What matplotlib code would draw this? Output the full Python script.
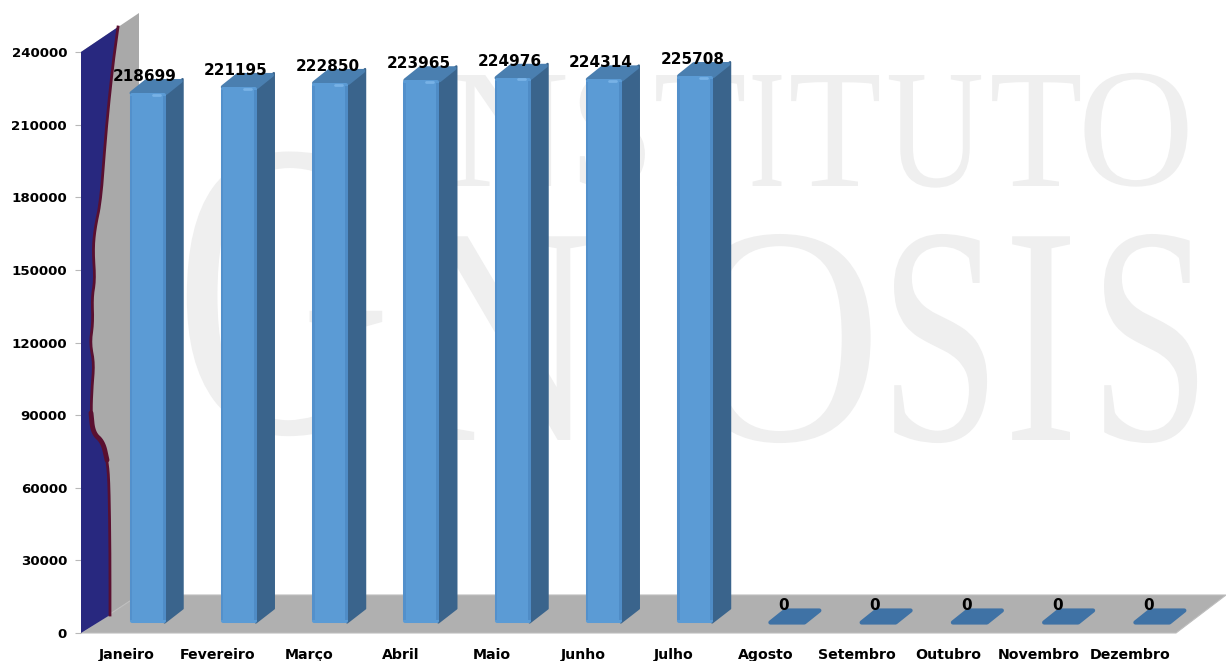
import numpy as np
import matplotlib
matplotlib.use('Agg')
from matplotlib import pyplot as plt
from matplotlib.patches import Polygon
from matplotlib.patheffects import AbstractPathEffect
from matplotlib.transforms import Affine2D

meses = ['Janeiro', 'Fevereiro', 'Março', 'Abril', 'Maio', 'Junho', 'Julho',
         'Agosto', 'Setembro', 'Outubro', 'Novembro', 'Dezembro']
valores = [218699, 221195, 222850, 223965, 224976, 224314, 225708, 0, 0, 0, 0, 0]
yticks = [0, 30000, 60000, 90000, 120000, 150000, 180000, 210000, 240000]

# borda da mancha azul na parede (pixels da imagem)
mancha_x = [118, 113, 106, 101, 95, 93, 95, 92, 93, 90, 94, 92, 91, 93, 103, 107, 109, 110, 110]
mancha_y = [27, 63, 130, 200, 228, 250, 280, 297, 323, 343, 363, 387, 413, 433, 442, 460, 480, 550, 615]

# letras da marca d'agua: letra, centro x, linha de base, tamanho, escala x
marca = [('I', 425, 186, 122, 0.65), ('N', 508, 186, 122, 1.0), ('S', 612, 186, 122, 0.9),
         ('T', 700, 186, 122, 0.9), ('I', 767, 186, 122, 0.65), ('T', 835, 186, 122, 0.9),
         ('U', 935, 186, 122, 0.8), ('T', 1036, 186, 122, 0.9), ('O', 1136, 185, 122, 0.95),
         ('G', 283, 432, 305, 0.71), ('N', 503, 440, 224, 0.85), ('O', 780, 440, 224, 0.91),
         ('S', 940, 440, 224, 0.7), ('I', 1041, 440, 224, 0.71), ('S', 1150, 440, 224, 0.7)]

W, H = 1226, 661
ESQ, BASE, TOPO = 81, 633, 52
PASSO = 91.25
KY = 240000 / (BASE - TOPO)


class Aperta(AbstractPathEffect):
    # estreita a letra em torno do centro, a fonte nao tem versao condensada
    def __init__(self, cx, sx):
        super().__init__()
        self.cx = cx
        self.sx = sx

    def draw_path(self, renderer, gc, tpath, affine, rgbFace=None):
        t = affine + Affine2D().translate(-self.cx, 0).scale(self.sx, 1).translate(self.cx, 0)
        renderer.draw_path(gc, tpath, t, rgbFace)


def px(x):
    return (np.asarray(x, dtype=float) - ESQ) / PASSO - 0.5


def py(y):
    return (BASE - np.asarray(y, dtype=float)) * KY


def poli(ax, xs, ys, **kw):
    ax.add_patch(Polygon(np.column_stack([px(xs), py(ys)]), closed=True, clip_on=False, **kw))


def suaviza(xs, ys, n=3):
    # cantos arredondados na borda da mancha
    p = np.column_stack([xs, ys]).astype(float)
    for _ in range(n):
        q = 0.75 * p[:-1] + 0.25 * p[1:]
        r = 0.25 * p[:-1] + 0.75 * p[1:]
        novo = np.empty((2 * len(q), 2))
        novo[0::2] = q
        novo[1::2] = r
        p = np.vstack([p[:1], novo, p[-1:]])
    return p[:, 0], p[:, 1]


fig = plt.figure(figsize=(W / 100, H / 100), dpi=100, facecolor='white')
ax = fig.add_axes([ESQ / W, (H - BASE) / H, (W - ESQ - 50) / W, (BASE - TOPO) / H])
ax.patch.set_alpha(0)
ax.set_xlim(-0.5, 11.5)
ax.set_ylim(0, 240000)
for s in ax.spines.values():
    s.set_visible(False)

# marca d'agua atras de tudo
for letra, cx, base, tam, sx in marca:
    t = fig.text(cx / W, 1 - base / H, letra, ha='center', va='baseline', family='Liberation Serif',
                 fontsize=tam, color='#efefef', zorder=-1)
    t.set_path_effects([Aperta(cx, sx)])

# parede e chao
poli(ax, [81, 139, 139, 81], [52, 13, 595, 633], facecolor='#a9a9a9', edgecolor='none', zorder=1)
poli(ax, [81, 139, 1226, 1176], [633, 595, 595, 633], facecolor='#b0b0b0', edgecolor='#bdbdbd', lw=0.8, zorder=1)

# mancha azul
bx, by = suaviza(mancha_x, mancha_y)
poli(ax, np.r_[81, bx, 81], np.r_[52, by, 633], facecolor='#28287f', edgecolor='none', zorder=2)
ax.plot(px(bx), py(by), color='#5a1030', lw=2.0, zorder=3, clip_on=False)
tx, ty = suaviza(mancha_x[12:16], mancha_y[12:16])
ax.plot(px(tx), py(ty), color='#5a1030', lw=3.5, zorder=3, clip_on=False, solid_capstyle='round')

# barras 3d
FX, FY = 21, 10.5   # deslocamento da face frontal
LARG = 36           # largura frontal em px
DX, DY = 17, 14     # profundidade
x_bar = np.arange(len(meses)) + FX / PASSO
bar_w = LARG / PASSO

for i, v in enumerate(valores):
    x0 = ESQ + PASSO * (i + 0.5) + FX - LARG / 2
    x1 = x0 + LARG
    y_topo = BASE - FY - v / KY
    y_base = BASE - FY
    cor_topo = '#4a7fb0' if v > 0 else '#3f72a5'
    if v > 0:
        poli(ax, [x1 - 1, x1 + DX, x1 + DX, x1 - 1], [y_topo, y_topo - DY, y_base - DY, y_base],
             facecolor='#3a648c', edgecolor='#3a648c', lw=1.6, joinstyle='round', zorder=4)
    poli(ax, [x0 + 2, x1, x1 + DX - 2, x0 + DX], [y_topo, y_topo, y_topo - DY + 2, y_topo - DY + 2],
         facecolor=cor_topo, edgecolor=cor_topo, lw=3.0, joinstyle='round', zorder=5)

altos = np.array([v for v in valores if v > 0])
x_altos = x_bar[:len(altos)]
barras = ax.bar(x_altos, altos - 4 * KY, width=(LARG - 4) / PASSO, bottom=(FY + 2) * KY, color='#5b9bd5',
                edgecolor='#5b9bd5', lw=2.9, zorder=6, clip_on=False)
for b in barras:
    b.set_joinstyle('round')
# filetes laterais da face frontal e brilho no topo
ax.bar(x_altos - bar_w / 2 + 1.2 / PASSO, altos - 6 * KY, width=2.4 / PASSO, bottom=(FY + 3) * KY,
       color='#5390cb', zorder=7, clip_on=False)
ax.bar(x_altos + bar_w / 2 - 1.5 / PASSO, altos - 6 * KY, width=3 / PASSO, bottom=(FY + 3) * KY,
       color='#4f8cc6', zorder=7, clip_on=False)
for xb, v in zip(x_altos, altos):
    ax.plot([xb + bar_w / 2 - 13 / PASSO, xb + bar_w / 2 - 6 / PASSO], [v + (FY - 1.5) * KY] * 2,
            color='#78b2e6', lw=2.0, zorder=8, clip_on=False, solid_capstyle='round')

# rotulos de dados
for xb, v in zip(x_bar, valores):
    ax.annotate(str(v), (xb, v + FY * KY), xytext=(-2, 16.5 * 0.72), textcoords='offset points',
                ha='center', va='center', fontsize=11, fontweight='bold', color='black', zorder=10,
                annotation_clip=False)

ax.set_yticks(yticks)
ax.set_yticklabels([str(v) for v in yticks], fontsize=9.6, fontweight='bold')
ax.tick_params(axis='y', length=4.5, width=0.8, color='#b8b8b8', pad=5.5)
ax.set_xticks(range(len(meses)))
ax.set_xticklabels(meses, fontsize=10.2, fontweight='bold')
ax.tick_params(axis='x', length=0, pad=11)

fig.savefig('out.png', dpi=100)
